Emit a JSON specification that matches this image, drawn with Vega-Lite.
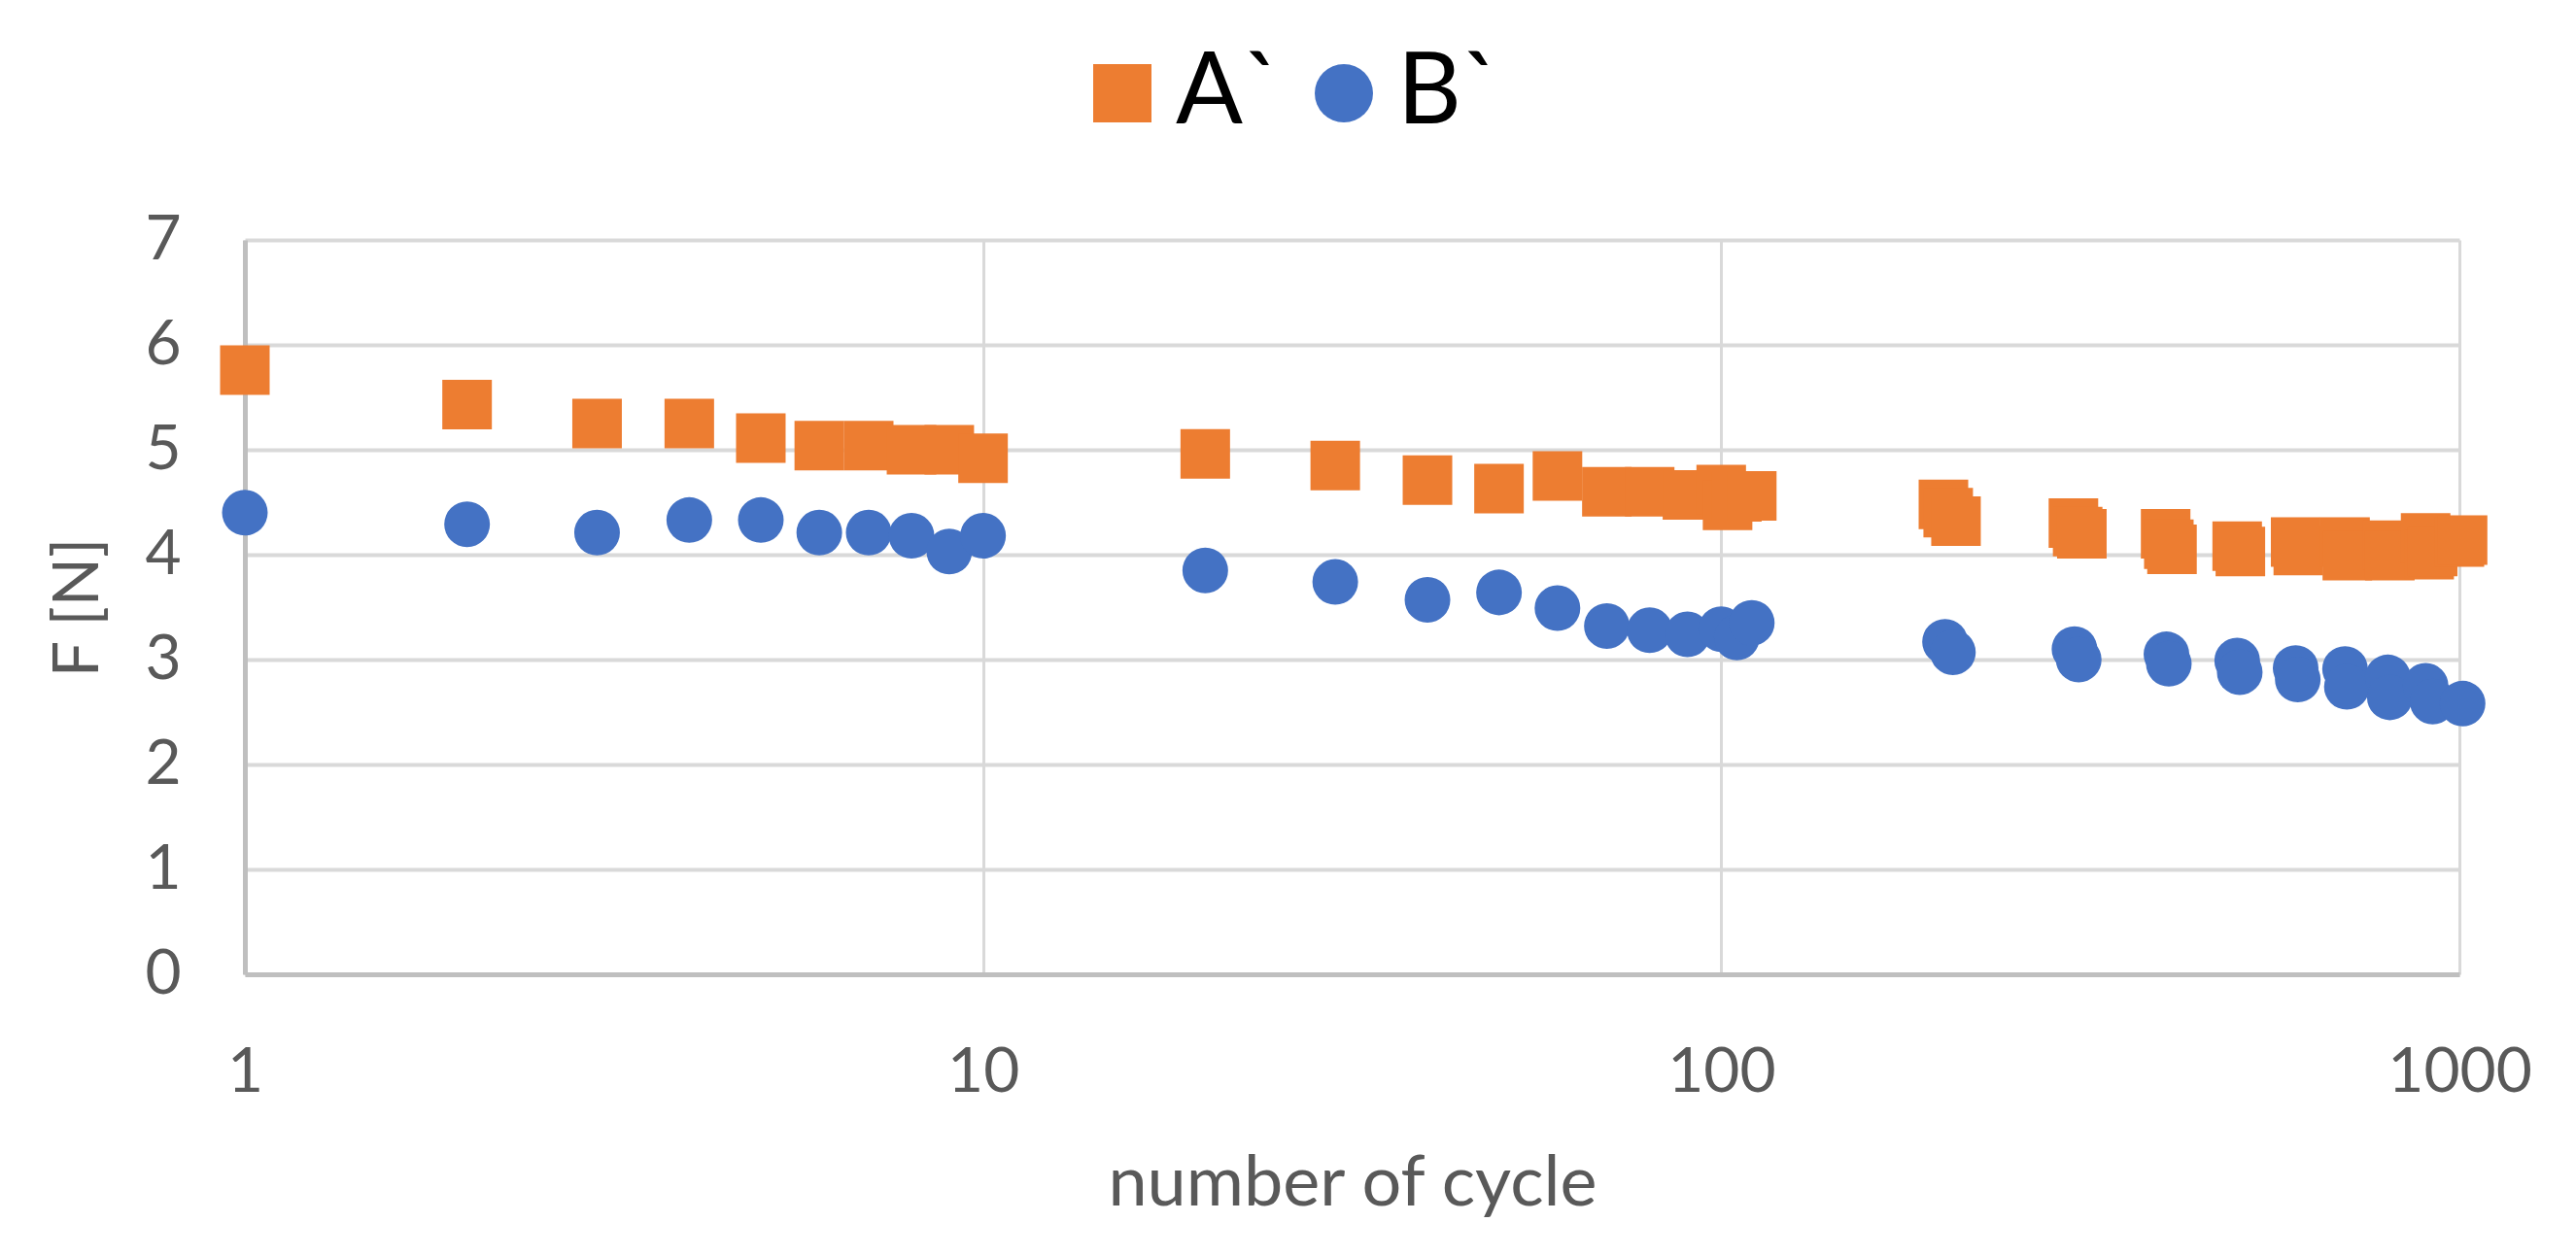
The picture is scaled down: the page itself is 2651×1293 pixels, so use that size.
{
  "$schema": "https://vega.github.io/schema/vega-lite/v6.json",
  "width": 2279,
  "height": 756,
  "autosize": {"type": "none"},
  "padding": {"left": 252, "top": 247, "right": 120, "bottom": 290},
  "background": "#ffffff",
  "config": {
    "view": {"stroke": null},
    "font": "Lato"
  },
  "data": {
    "values": [
      {"series": "A`", "cycle": 1, "F": 5.76},
      {"series": "A`", "cycle": 2, "F": 5.43},
      {"series": "A`", "cycle": 3, "F": 5.25},
      {"series": "A`", "cycle": 4, "F": 5.25},
      {"series": "A`", "cycle": 5, "F": 5.11},
      {"series": "A`", "cycle": 6, "F": 5.04},
      {"series": "A`", "cycle": 7, "F": 5.04},
      {"series": "A`", "cycle": 8, "F": 5.0},
      {"series": "A`", "cycle": 9, "F": 5.0},
      {"series": "A`", "cycle": 10, "F": 4.92},
      {"series": "A`", "cycle": 20, "F": 4.96},
      {"series": "A`", "cycle": 30, "F": 4.85},
      {"series": "A`", "cycle": 40, "F": 4.71},
      {"series": "A`", "cycle": 50, "F": 4.63},
      {"series": "A`", "cycle": 60, "F": 4.75},
      {"series": "A`", "cycle": 70, "F": 4.6},
      {"series": "A`", "cycle": 80, "F": 4.6},
      {"series": "A`", "cycle": 90, "F": 4.57},
      {"series": "A`", "cycle": 100, "F": 4.62},
      {"series": "A`", "cycle": 102, "F": 4.47},
      {"series": "A`", "cycle": 105, "F": 4.55},
      {"series": "A`", "cycle": 110, "F": 4.56},
      {"series": "A`", "cycle": 200, "F": 4.48},
      {"series": "A`", "cycle": 203, "F": 4.4},
      {"series": "A`", "cycle": 208, "F": 4.32},
      {"series": "A`", "cycle": 300, "F": 4.3},
      {"series": "A`", "cycle": 304, "F": 4.22},
      {"series": "A`", "cycle": 308, "F": 4.2},
      {"series": "A`", "cycle": 400, "F": 4.2},
      {"series": "A`", "cycle": 404, "F": 4.1},
      {"series": "A`", "cycle": 408, "F": 4.05},
      {"series": "A`", "cycle": 500, "F": 4.08},
      {"series": "A`", "cycle": 505, "F": 4.03},
      {"series": "A`", "cycle": 600, "F": 4.12},
      {"series": "A`", "cycle": 605, "F": 4.04},
      {"series": "A`", "cycle": 700, "F": 4.12},
      {"series": "A`", "cycle": 705, "F": 3.99},
      {"series": "A`", "cycle": 800, "F": 4.09},
      {"series": "A`", "cycle": 805, "F": 3.99},
      {"series": "A`", "cycle": 900, "F": 4.16},
      {"series": "A`", "cycle": 910, "F": 4.0},
      {"series": "A`", "cycle": 920, "F": 4.03},
      {"series": "A`", "cycle": 1000, "F": 4.12},
      {"series": "A`", "cycle": 1010, "F": 4.14},
      {"series": "B`", "cycle": 1, "F": 4.4},
      {"series": "B`", "cycle": 2, "F": 4.29},
      {"series": "B`", "cycle": 3, "F": 4.21},
      {"series": "B`", "cycle": 4, "F": 4.33},
      {"series": "B`", "cycle": 5, "F": 4.33},
      {"series": "B`", "cycle": 6, "F": 4.21},
      {"series": "B`", "cycle": 7, "F": 4.21},
      {"series": "B`", "cycle": 8, "F": 4.18},
      {"series": "B`", "cycle": 9, "F": 4.03},
      {"series": "B`", "cycle": 10, "F": 4.18},
      {"series": "B`", "cycle": 20, "F": 3.85},
      {"series": "B`", "cycle": 30, "F": 3.74},
      {"series": "B`", "cycle": 40, "F": 3.57},
      {"series": "B`", "cycle": 50, "F": 3.64},
      {"series": "B`", "cycle": 60, "F": 3.49},
      {"series": "B`", "cycle": 70, "F": 3.32},
      {"series": "B`", "cycle": 80, "F": 3.28},
      {"series": "B`", "cycle": 90, "F": 3.24},
      {"series": "B`", "cycle": 100, "F": 3.29},
      {"series": "B`", "cycle": 105, "F": 3.21},
      {"series": "B`", "cycle": 110, "F": 3.35},
      {"series": "B`", "cycle": 201, "F": 3.17},
      {"series": "B`", "cycle": 206, "F": 3.07},
      {"series": "B`", "cycle": 301, "F": 3.1},
      {"series": "B`", "cycle": 305, "F": 3.0},
      {"series": "B`", "cycle": 401, "F": 3.05},
      {"series": "B`", "cycle": 404, "F": 2.96},
      {"series": "B`", "cycle": 500, "F": 2.99},
      {"series": "B`", "cycle": 504, "F": 2.88},
      {"series": "B`", "cycle": 600, "F": 2.92},
      {"series": "B`", "cycle": 604, "F": 2.81},
      {"series": "B`", "cycle": 700, "F": 2.91},
      {"series": "B`", "cycle": 704, "F": 2.74},
      {"series": "B`", "cycle": 800, "F": 2.83},
      {"series": "B`", "cycle": 805, "F": 2.64},
      {"series": "B`", "cycle": 900, "F": 2.75},
      {"series": "B`", "cycle": 920, "F": 2.6},
      {"series": "B`", "cycle": 1010, "F": 2.58}
    ]
  },
  "encoding": {
    "x": {
      "field": "cycle",
      "type": "quantitative",
      "scale": {"type": "log", "domain": [1, 1000]},
      "axis": {
        "values": [1, 10, 100, 1000],
        "format": "d",
        "title": "number of cycle",
        "grid": true,
        "gridColor": "#d9d9d9",
        "gridWidth": 3,
        "domainColor": "#bfbfbf",
        "domainWidth": 5,
        "ticks": false,
        "labelFontSize": 64,
        "labelColor": "#595959",
        "labelPadding": 69,
        "labelFlush": false,
        "titleFontSize": 72,
        "titleColor": "#595959",
        "titleFontWeight": "normal",
        "titlePadding": 47
      }
    },
    "y": {
      "field": "F",
      "type": "quantitative",
      "scale": {"domain": [0, 7]},
      "axis": {
        "values": [0, 1, 2, 3, 4, 5, 6, 7],
        "title": "F [N]",
        "grid": true,
        "gridColor": "#d9d9d9",
        "gridWidth": 4,
        "domainColor": "#bfbfbf",
        "domainWidth": 5,
        "ticks": false,
        "labelFontSize": 64,
        "labelColor": "#595959",
        "labelPadding": 66,
        "titleFontSize": 66,
        "titleColor": "#595959",
        "titleFontWeight": "normal",
        "titlePadding": 34
      }
    },
    "color": {
      "field": "series",
      "type": "nominal",
      "scale": {"domain": ["A`", "B`"], "range": ["#ED7D31", "#4472C4"]},
      "legend": {
        "orient": "none",
        "legendX": 852,
        "legendY": -202,
        "direction": "horizontal",
        "title": null,
        "padding": 0,
        "labelFontSize": 102,
        "labelColor": "#000000",
        "symbolSize": 3600,
        "labelOffset": 4,
        "columnPadding": 12
      }
    },
    "shape": {
      "field": "series",
      "type": "nominal",
      "scale": {"domain": ["A`", "B`"], "range": ["square", "circle"]},
      "legend": {
        "orient": "none",
        "legendX": 852,
        "legendY": -202,
        "direction": "horizontal",
        "title": null,
        "padding": 0,
        "labelFontSize": 102,
        "labelColor": "#000000",
        "symbolSize": 3600,
        "labelOffset": 4,
        "columnPadding": 12
      }
    }
  },
  "layer": [
    {
      "transform": [{"filter": "datum.series === 'A`'"}],
      "mark": {"type": "point", "filled": true, "opacity": 1, "strokeWidth": 0, "size": 2601}
    },
    {
      "transform": [{"filter": "datum.series === 'B`'"}],
      "mark": {"type": "point", "filled": true, "opacity": 1, "strokeWidth": 0, "size": 2209}
    }
  ]
}
